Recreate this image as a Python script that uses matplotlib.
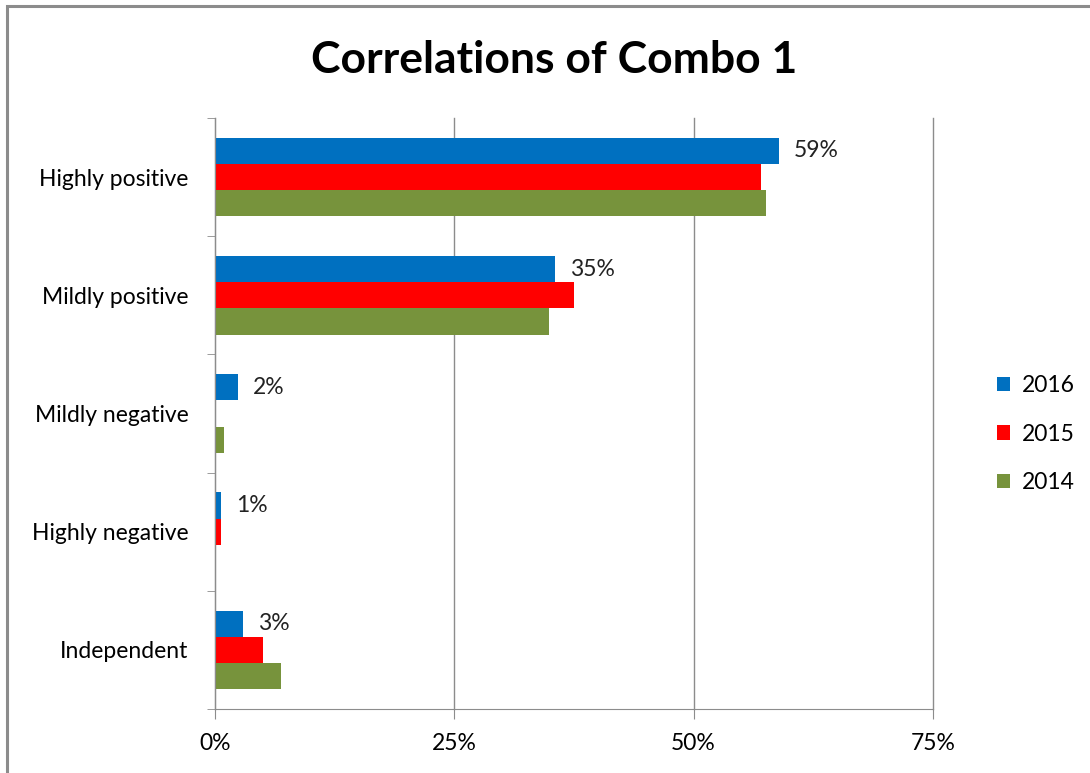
import matplotlib.pyplot as plt
from matplotlib.patches import Rectangle
from matplotlib.ticker import FuncFormatter

categories = ['Highly positive', 'Mildly positive', 'Mildly negative', 'Highly negative', 'Independent']
years = ['2016', '2015', '2014']
v2016 = [58.9, 35.5, 2.4, 0.6, 2.9]
v2015 = [57.0, 37.5, 0.0, 0.6, 5.0]
v2014 = [57.6, 34.9, 0.9, 0.0, 6.9]
labels2016 = ['59%', '35%', '2%', '1%', '3%']
colors = ['#0070C0', '#FF0000', '#77933C']

plt.rcParams['font.family'] = ['Lato', 'DejaVu Sans']

fig = plt.figure(figsize=(10.9, 7.73), dpi=100)
ax = fig.add_axes([0.1972, 0.0828, 0.6587, 0.7645])

# 画框
fig.patches.append(Rectangle((7 / 1090, -0.1), 1.2, 1 - 6 / 773 + 0.1, transform=fig.transFigure,
                             fill=False, edgecolor='#8c8c8c', linewidth=2.2, zorder=0))

ypos = [4, 3, 2, 1, 0]
h = 0.222
offsets = [h, 0, -h]
for vals, off, col, yr in zip([v2016, v2015, v2014], offsets, colors, years):
    ax.barh([y + off for y in ypos], vals, height=h, color=col, label=yr, zorder=3)

for y, v, t in zip(ypos, v2016, labels2016):
    ax.annotate(t, (v, y + h), xytext=(11, 0), textcoords='offset points',
                va='center', ha='left', fontsize=16.5, color='#222222')

ax.set_xlim(0, 75)
ax.set_ylim(-0.5, 4.5)
ax.set_xticks([0, 25, 50, 75])
ax.xaxis.set_major_formatter(FuncFormatter(lambda x, p: f'{int(x)}%'))
ax.set_yticks(ypos)
ax.set_yticklabels(categories)
ax.set_yticks([-0.5, 0.5, 1.5, 2.5, 3.5, 4.5], minor=True)
ax.tick_params(axis='y', which='major', length=0, pad=19, labelsize=16.5)
ax.tick_params(axis='y', which='minor', length=6, color='#8c8c8c', direction='out')
ax.tick_params(axis='x', length=7, color='#8c8c8c', direction='out', pad=10, labelsize=16.5)
ax.grid(axis='x', color='#8c8c8c', linewidth=1, zorder=0)
for gl in ax.get_xgridlines():
    gl.set_clip_on(False)
for s in ['top', 'right']:
    ax.spines[s].set_visible(False)
for s in ['left', 'bottom']:
    ax.spines[s].set_color('#8c8c8c')
    ax.spines[s].set_zorder(4)

fig.text(0.5 + 0.5 * (554 - 545) / 1090 + 5 / 1090, 0.922, 'Correlations of Combo 1', ha='center', va='center',
         fontsize=32, fontweight='bold')

leg = ax.legend(loc='center left', bbox_to_anchor=(1.06, 0.465), frameon=False, fontsize=16.5,
                handlelength=0.6, handleheight=0.6, handletextpad=0.5, labelspacing=1.2)

fig.savefig('out.png', dpi=100)
